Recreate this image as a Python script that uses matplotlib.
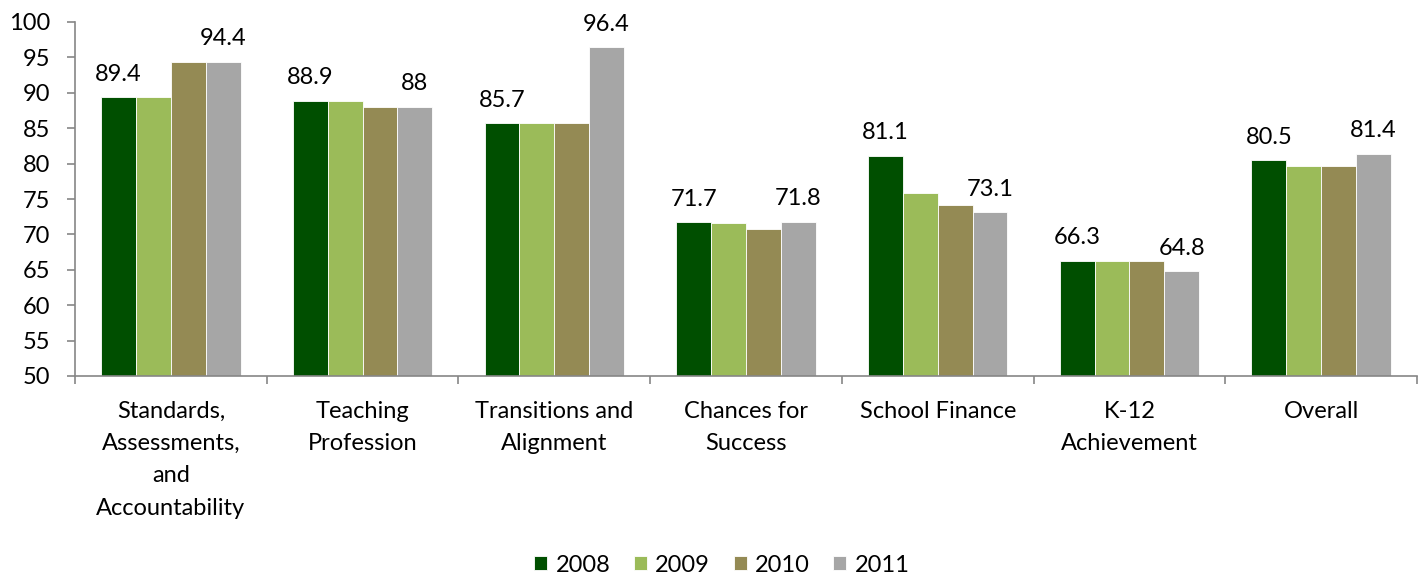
import numpy as np
import matplotlib
matplotlib.use("Agg")
import matplotlib.pyplot as plt

# ------------------------------------------
# Data
# ------------------------------------------
categories = ["Standards,\nAssessments,\nand\nAccountability", "Teaching\nProfession",
              "Transitions and\nAlignment", "Chances for\nSuccess", "School Finance",
              "K-12\nAchievement", "Overall"]
years = ["2008", "2009", "2010", "2011"]
v2008 = [89.4, 88.9, 85.7, 71.7, 81.1, 66.3, 80.5]
v2009 = [89.4, 88.9, 85.7, 71.6, 75.9, 66.3, 79.7]
v2010 = [94.4, 88.0, 85.7, 70.8, 74.2, 66.3, 79.7]
v2011 = [94.4, 88.0, 96.4, 71.8, 73.1, 64.8, 81.4]
colors = ["#004F00", "#9BBB59", "#948A54", "#A6A6A6"]

plt.rcParams['font.family'] = ['Lato', 'DejaVu Sans']
FS = 17

fig = plt.figure(figsize=(14.26, 5.77), dpi=100)
ax = fig.add_axes([75 / 1426, 1 - 376 / 577, (1417 - 75) / 1426, (376 - 22) / 577])

x = np.arange(len(categories))
w = 0.727 / 4
series = [v2008, v2009, v2010, v2011]
for i, (vals, col, yr) in enumerate(zip(series, colors, years)):
    pos = x + (i - 1.5) * w
    ax.bar(pos, np.array(vals) - 50, width=w, bottom=50, color=col,
           edgecolor="white", linewidth=0.6, label=yr)
    # only first and last year are labelled
    if i in (0, 3):
        for p, v in zip(pos, vals):
            ax.annotate(f"{v:g}", (p, v), xytext=(0, 9), textcoords="offset points",
                        ha="center", va="bottom", fontsize=FS, color="black")

ax.set_xlim(-0.5, len(categories) - 0.5)
ax.set_ylim(50, 100)
ax.set_yticks(np.arange(50, 101, 5))
ax.set_xticks(x)
ax.set_xticklabels(categories, fontsize=FS, linespacing=1.66)
ax.set_xticks(np.arange(-0.5, len(categories), 1), minor=True)
ax.tick_params(axis="x", which="major", length=0, pad=18)
ax.tick_params(axis="x", which="minor", length=6, color="#868686", width=1.2)
ax.tick_params(axis="y", length=6, color="#868686", width=1.2, pad=12, labelsize=FS)

for s in ["top", "right"]:
    ax.spines[s].set_visible(False)
for s in ["left", "bottom"]:
    ax.spines[s].set_color("#868686")
    ax.spines[s].set_linewidth(1.2)

fig.legend(loc="center", bbox_to_anchor=(722 / 1426, 1 - 565 / 577), ncol=4, frameon=False,
           fontsize=FS, handlelength=0.55, handleheight=0.55, handletextpad=0.35,
           columnspacing=1.0)

fig.savefig("out.png", dpi=100)
